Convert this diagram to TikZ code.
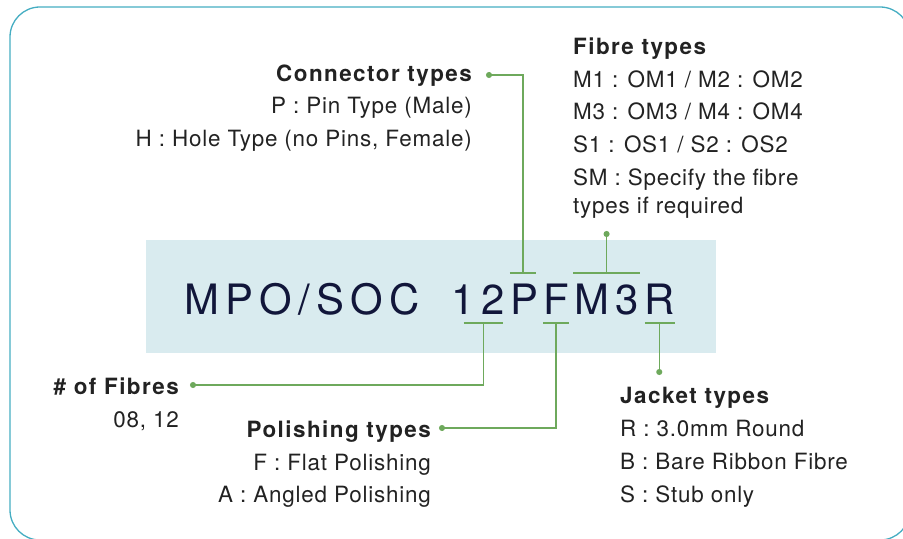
\documentclass[tikz,border=0pt]{standalone}
\usepackage{fontspec}
\setmainfont{TeX Gyre Heros}
\newfontfamily\bodyfont[LetterSpace=3.5]{TeX Gyre Heros}
\newfontfamily\headfont[LetterSpace=6.5]{TeX Gyre Heros}
\newfontfamily\codefont[LetterSpace=15]{TeX Gyre Heros}
\usetikzlibrary{arrows.meta}
\definecolor{leaf}{HTML}{6EA95C}
\definecolor{frame}{HTML}{45ADC2}
\definecolor{panel}{HTML}{D9EBEF}
\definecolor{ink}{HTML}{222222}
\definecolor{navy}{HTML}{11163A}

\begin{document}
\begin{tikzpicture}
	[%
	x=1bp, y=-1bp,%
	head/.style ={font=\headfont\bfseries\fontsize{22.5}{26}\selectfont,	text=ink,	inner sep=0pt},%
	body/.style ={font=\bodyfont\fontsize{22.5}{26}\selectfont,		text=ink,	inner sep=0pt},%
	code/.style ={font=\codefont\fontsize{42}{48}\selectfont,		text=navy,	inner sep=0pt},%
	lead/.style ={draw=leaf,	line width=1.4bp,	{Circle[length=6bp,width=6bp]}-},%
	tbar/.style ={draw=leaf,	line width=1.4bp},%
	]
	\useasboundingbox (0,0) rectangle (903,539);
	\clip (0,0) rectangle (903,539);

	% frame and panel
	\draw [frame, line width=1.3bp, rounded corners=30bp] (10,7) rectangle (910,540);
	\fill [panel] (146,240) rectangle (716,353);

	% part number
	\node (mpo) at (184,315) [code, anchor=base west] {MPO/SOC};
	\node (n12) at ([xshift=32bp]mpo.base east) [code, anchor=base west] {12};
	\node (np)  at ([xshift=5bp]n12.base east) [code, anchor=base west] {P};
	\node (nf)  at ([xshift=5bp]np.base east)  [code, anchor=base west] {F};
	\node (nm3) at ([xshift=5bp]nf.base east)  [code, anchor=base west] {M3};
	\node (nr)  at ([xshift=5bp]nm3.base east) [code, anchor=base west] {R};

	% labels
	\node (conn) at (472,82)  [head, anchor=base east] {Connector types};
	\foreach \t [count=\i] in {P : Pin Type (Male), {H : Hole Type (no Pins, Female)}}
		\node (conn\i) at (472,81+33*\i) [body, anchor=base east] {\t};

	\node (fibre) at (573,55) [head, anchor=base west] {Fibre types};
	\node (fibre1) at (573,88)  [body, anchor=base west] {M1 : OM1 / M2 : OM2};
	\node (fibre2) at (573,120) [body, anchor=base west] {M3 : OM3 / M4 : OM4};
	\node (fibre3) at (573,153) [body, anchor=base west] {S1 : OS1 / S2 : OS2};
	\node (fibre4) at (573,186) [body, anchor=base west] {SM : Specify the fibre};
	\node (fibre5) at (573,214) [body, anchor=base west] {types if required};

	\node (count) at (179,394) [head, anchor=base east] {\# of Fibres};
	\node (count1) at (179,427) [body, anchor=base east] {08, 12};

	\node (polish) at (431,437) [head, anchor=base east] {Polishing types};
	\node (polish1) at (431,470) [body, anchor=base east] {F : Flat Polishing};
	\node (polish2) at (431,502) [body, anchor=base east] {A : Angled Polishing};

	\node (jacket) at (620,403) [head, anchor=base west] {Jacket types};
	\foreach \t [count=\i] in {R : 3.0mm Round, B : Bare Ribbon Fibre, S : Stub only}
		\node (jacket\i) at (620,403+33*\i) [body, anchor=base west] {\t};

	% bars over and under the part number
	\draw [tbar] ([yshift=42bp]np.base west) -- ([xshift=-2bp,yshift=42bp]np.base east);
	\draw [tbar] ([xshift=-1bp,yshift=42bp]nm3.base west) -- ([xshift=1bp,yshift=42bp]nm3.base east);
	\draw [tbar] ([xshift=12bp,yshift=-8bp]n12.base west) -- ([xshift=-2bp,yshift=-8bp]n12.base east);
	\draw [tbar] ([yshift=-8bp]nf.base west) -- ([yshift=-8bp]nf.base east);
	\draw [tbar] ([xshift=1bp,yshift=-8bp]nr.base west) -- ([yshift=-8bp]nr.base east);

	% leaders
	\draw [lead] ([xshift=14bp,yshift=7bp]conn.base east) -| ([xshift=-1bp,yshift=42bp]np.base);
	\draw [lead] ([yshift=84bp]nm3.base) -- ([yshift=42bp]nm3.base);
	\draw [lead] ([xshift=11bp,yshift=9bp]count.base east) -| ([xshift=5bp,yshift=-8bp]n12.base);
	\draw [lead] ([xshift=8bp,yshift=9bp]polish.base east) -| ([yshift=-8bp]nf.base);
	\draw [lead] ([yshift=-60bp]nr.base) -- ([yshift=-8bp]nr.base);

\end{tikzpicture}
\end{document}
